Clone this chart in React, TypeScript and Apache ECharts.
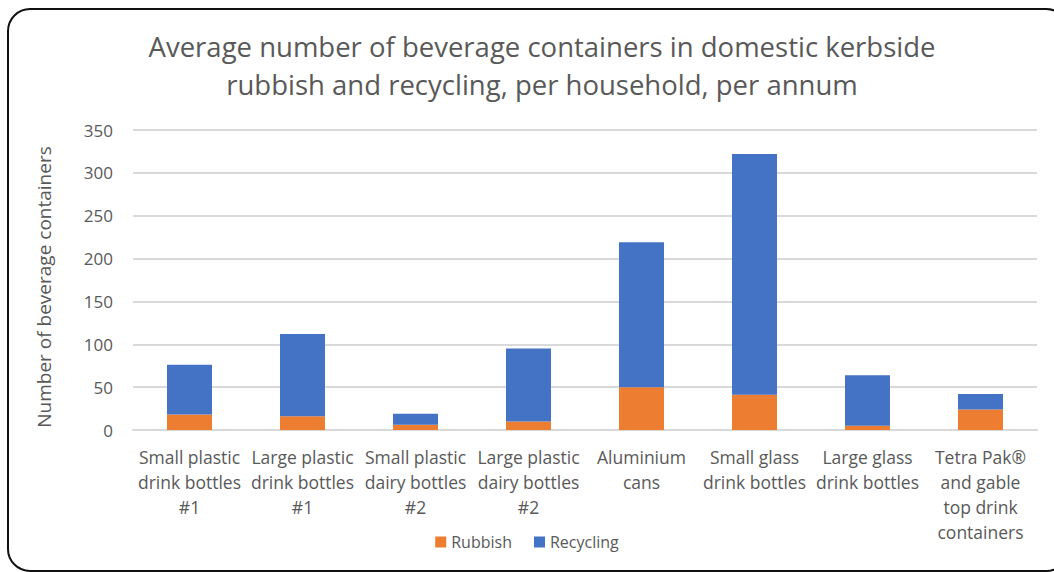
import React, { useEffect, useRef } from "react";
import * as echarts from "echarts";

const categories = [
  "Small plastic\ndrink bottles\n#1",
  "Large plastic\ndrink bottles\n#1",
  "Small plastic\ndairy bottles\n#2",
  "Large plastic\ndairy bottles\n#2",
  "Aluminium\ncans",
  "Small glass\ndrink bottles",
  "Large glass\ndrink bottles",
  "Tetra Pak®\nand gable\ntop drink\ncontainers",
];
const rubbish = [18, 16, 6, 10, 50, 41, 5, 24];
const recycling = [58, 96, 13, 85, 169, 281, 59, 18];
const titleText =
  "Average number of beverage containers in domestic kerbside\nrubbish and recycling, per household, per annum";
const yAxisName = "Number of beverage containers";

const FONT = "'Open Sans', Lato, sans-serif";
const GREY = "#595959";

export default function App() {
  const ref = useRef<HTMLDivElement>(null);
  useEffect(() => {
    if (!ref.current) return;
    const chart = echarts.init(ref.current, undefined, { renderer: "svg" });
    chart.setOption({
      animation: false,
      backgroundColor: "#ffffff",
      textStyle: { fontFamily: FONT },
      title: {
        text: titleText,
        left: 537,
        textAlign: "center",
        top: 22,
        textStyle: {
          fontFamily: FONT,
          fontSize: 27.5,
          fontWeight: "normal",
          color: GREY,
          lineHeight: 38,
        },
      },
      graphic: [
        {
          type: "rect",
          shape: { x: 8, y: 9, width: 1060, height: 562, r: 22 },
          style: { fill: "none", stroke: "#111", lineWidth: 2 },
          silent: true,
        },
      ],
      legend: {
        bottom: 17,
        left: "center",
        itemWidth: 11,
        itemHeight: 11,
        itemGap: 22,
        icon: "rect",
        textStyle: { fontFamily: FONT, fontSize: 16, color: GREY },
        data: ["Rubbish", "Recycling"],
      },
      grid: { left: 133, right: 17, top: 130, bottom: 142 },
      xAxis: {
        type: "category",
        data: categories,
        axisLine: { lineStyle: { color: "#d9d9d9", width: 2 } },
        axisTick: { show: false },
        axisLabel: {
          interval: 0,
          fontFamily: FONT,
          fontSize: 17.5,
          color: GREY,
          lineHeight: 25,
          margin: 14,
        },
      },
      yAxis: {
        type: "value",
        min: 0,
        max: 350,
        interval: 50,
        name: yAxisName,
        nameLocation: "middle",
        nameGap: 80,
        nameTextStyle: { fontFamily: FONT, fontSize: 19, color: GREY, padding: [0, 14, 0, 0] },
        axisLine: { show: false },
        axisTick: { show: false },
        axisLabel: { fontFamily: FONT, fontSize: 17, color: GREY, margin: 20 },
        splitLine: { lineStyle: { color: "#d9d9d9", width: 2 } },
      },
      series: [
        {
          name: "Rubbish",
          type: "bar",
          stack: "total",
          barWidth: 45,
          data: rubbish,
          itemStyle: { color: "#ED7D31" },
        },
        {
          name: "Recycling",
          type: "bar",
          stack: "total",
          barWidth: 45,
          data: recycling,
          itemStyle: { color: "#4472C4" },
        },
      ],
    });
    return () => chart.dispose();
  }, []);
  return (
    <div
      ref={ref}
      style={{ position: "fixed", left: 0, top: 0, width: 1054, height: 572 }}
    />
  );
}
